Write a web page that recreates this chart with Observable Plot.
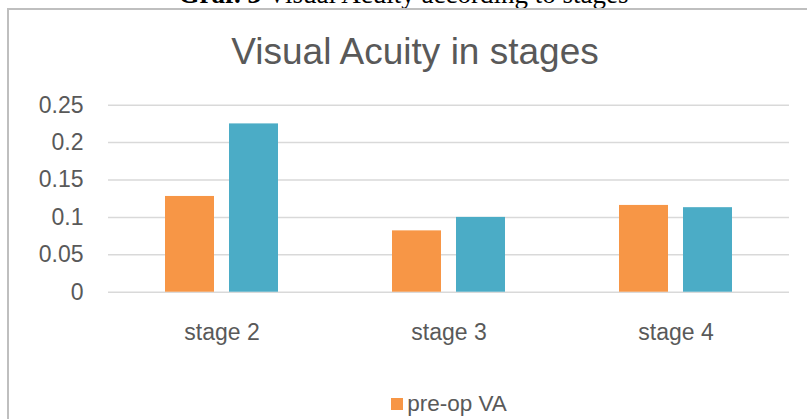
<!DOCTYPE html>
<html>
<head>
<meta charset="utf-8">
<script src="https://cdn.jsdelivr.net/npm/d3@7"></script>
<script src="https://cdn.jsdelivr.net/npm/@observablehq/plot@0.6"></script>
<style>
  html, body { margin: 0; padding: 0; background: #fff; width: 807px; height: 419px; overflow: hidden; position: relative; }
  #caption { position: absolute; left: 0; width: 807px; top: -19px; text-align: center; font-family: "Liberation Serif", "Times New Roman", serif; font-size: 27px; line-height: 1; color: #000; white-space: nowrap; }
  #box { position: absolute; left: 7px; top: 8px; width: 830px; height: 500px; border-left: 2px solid #bfbfbf; border-top: 2px solid #bfbfbf; box-sizing: border-box; }
  #title { position: absolute; left: 7px; width: 816px; top: 33px; text-align: center; font-family: "Liberation Sans", Arial, sans-serif; font-size: 37px; line-height: 1; color: #595959; white-space: nowrap; }
  #chart { position: absolute; left: 0; top: 90px; }
  #legend { position: absolute; left: 349px; width: 200px; top: 393px; display: flex; flex-direction: column; align-items: center; font-family: "Liberation Sans", Arial, sans-serif; font-size: 22.5px; line-height: 1; color: #595959; }
  .item { display: flex; align-items: center; white-space: nowrap; margin-bottom: 8px; }
  .sw { width: 12px; height: 12px; margin-right: 4px; display: inline-block; }
</style>
</head>
<body>
<div id="caption"><b>Graf. 3</b> Visual Acuity according to stages</div>
<div id="box"></div>
<div id="title">Visual Acuity in stages</div>
<div id="chart"></div>
<div id="legend"></div>
<script>
const stages = ["stage 2", "stage 3", "stage 4"];
const seriesNames = ["pre-op VA", "post-op VA"];
const preOp = [0.128, 0.082, 0.116];
const postOp = [0.225, 0.100, 0.113];
const seriesColors = ["#F79646", "#4BACC6"];
const yTicks = [0, 0.05, 0.1, 0.15, 0.2, 0.25];
const yTickLabels = ["0", "0.05", "0.1", "0.15", "0.2", "0.25"];

const data = [];
stages.forEach((s, i) => {
  data.push({stage: s, series: seriesNames[0], value: preOp[i]});
  data.push({stage: s, series: seriesNames[1], value: postOp[i]});
});

const chart = Plot.plot({
  width: 807,
  height: 260,
  marginLeft: 108,
  marginRight: 18,
  marginTop: 14.7,
  marginBottom: 58.3,
  style: {fontFamily: "Liberation Sans, Arial, sans-serif", fontSize: "23px", color: "#595959", background: "transparent"},
  fx: {domain: stages, padding: 0, label: null, tickSize: 0, tickPadding: 31},
  x: {domain: seriesNames, paddingInner: 0.23, paddingOuter: 0.862, axis: null},
  y: {domain: [0, 0.25], ticks: yTicks, tickFormat: d => yTickLabels[yTicks.findIndex(t => Math.abs(t - d) < 1e-9)], tickSize: 0, tickPadding: 25, label: null},
  color: {domain: seriesNames, range: seriesColors},
  marks: [
    Plot.ruleY(yTicks, {stroke: "#d9d9d9", strokeWidth: 1.5}),
    Plot.barY(data, {fx: "stage", x: "series", y: "value", fill: "series"})
  ]
});
document.getElementById("chart").appendChild(chart);

const legend = document.getElementById("legend");
seriesNames.forEach((n, i) => {
  const it = document.createElement("div");
  it.className = "item";
  const sw = document.createElement("span");
  sw.className = "sw";
  sw.style.background = seriesColors[i];
  it.appendChild(sw);
  it.appendChild(document.createTextNode(n));
  legend.appendChild(it);
});
</script>
</body>
</html>
